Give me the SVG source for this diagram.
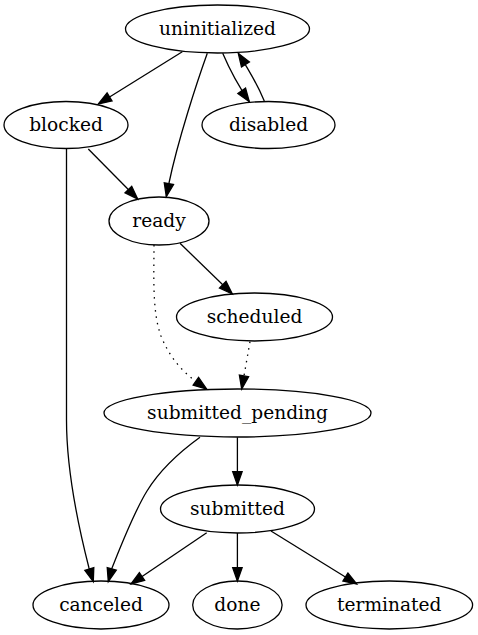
<svg xmlns="http://www.w3.org/2000/svg" width="478" height="635" viewBox="0 0 478 635">
<style>
  .node ellipse { fill: none; stroke: #000; stroke-width: 1.3; }
  .node text { font-family: "DejaVu Serif", serif; font-size: 18.6px; text-anchor: middle; fill: #000; }
  .edge { fill: none; stroke: #000; stroke-width: 1.3; marker-end: url(#arrow); }
  .dotted { stroke-dasharray: 1.5 5; }
</style>
<defs>
  <marker id="arrow" markerUnits="userSpaceOnUse" markerWidth="14" markerHeight="10" refX="13.3" refY="4.7" orient="auto" overflow="visible">
    <path d="M0,0 L13.3,4.7 L0,9.4 Z" fill="#000" stroke="#000" stroke-width="1.3" stroke-dasharray="none"/>
  </marker>
</defs>
<rect width="478" height="635" fill="#fff"/>
<g id="connectors">
  <path class="edge" d="M182.3,51.7 L98.3,104"/>
  <path class="edge" d="M207.3,53.3 C197,82 178,140 169,183 L166.3,196.7"/>
  <path class="edge" d="M222.7,53.3 C229,68 237,84 249.3,101.7"/>
  <path class="edge" d="M264.3,101 C258,86 249,70 238.3,53.3"/>
  <path class="edge" d="M88.3,149 L137.7,199"/>
  <path class="edge" d="M66.5,148 L66.5,420 C66.5,470 78,525 89,568 L93.3,581.7"/>
  <path class="edge" d="M180,243.3 L232.3,294"/>
  <path class="edge dotted" d="M154,245 C154,275 152,312 161,336 C169,356 180,369 194,380 L206.7,389"/>
  <path class="edge dotted" d="M250,341.7 L241.7,389"/>
  <path class="edge" d="M237.4,437.3 L237.4,485"/>
  <path class="edge" d="M200,437.3 C181,451 160,470 147,491 C134,512 122,543 112,568 L108.3,581.7"/>
  <path class="edge" d="M206.7,532.7 L131,584"/>
  <path class="edge" d="M237.4,533 L237.4,581"/>
  <path class="edge" d="M271,531 L356.7,584"/>
</g>
<g id="uninitialized" class="node"><ellipse cx="217.5" cy="29" rx="92" ry="24"/><text x="217.5" y="35">uninitialized</text></g>
<g id="blocked" class="node"><ellipse cx="66" cy="125" rx="62" ry="23.5"/><text x="66" y="131">blocked</text></g>
<g id="disabled" class="node"><ellipse cx="268.5" cy="125" rx="66.5" ry="23.5"/><text x="268.5" y="131">disabled</text></g>
<g id="ready" class="node"><ellipse cx="159" cy="221" rx="50" ry="24"/><text x="159" y="227">ready</text></g>
<g id="scheduled" class="node"><ellipse cx="254.5" cy="317" rx="78" ry="24"/><text x="254.5" y="323">scheduled</text></g>
<g id="submitted_pending" class="node"><ellipse cx="237.5" cy="413" rx="133.5" ry="24"/><text x="237.5" y="419">submitted_pending</text></g>
<g id="submitted" class="node"><ellipse cx="237.5" cy="509" rx="77" ry="24"/><text x="237.5" y="515">submitted</text></g>
<g id="canceled" class="node"><ellipse cx="101" cy="605" rx="68" ry="24"/><text x="101" y="611">canceled</text></g>
<g id="done" class="node"><ellipse cx="237.4" cy="605" rx="44.7" ry="24"/><text x="237.4" y="611">done</text></g>
<g id="terminated" class="node"><ellipse cx="389.3" cy="605" rx="83.3" ry="24"/><text x="389.3" y="611">terminated</text></g>
</svg>
